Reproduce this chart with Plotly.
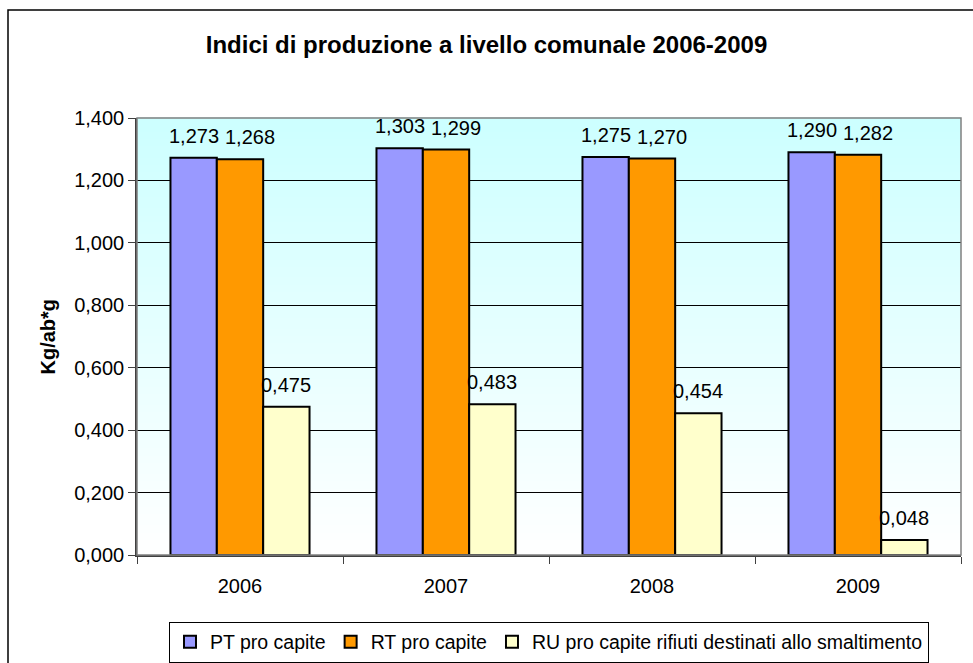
import plotly.graph_objects as go

# Dati: indici di produzione (kg per abitante al giorno)
years = ["2006", "2007", "2008", "2009"]
pt_pro_capite = [1.273, 1.303, 1.275, 1.290]
rt_pro_capite = [1.268, 1.299, 1.270, 1.282]
ru_pro_capite = [0.475, 0.483, 0.454, 0.048]

series_names = [
    "PT pro capite",
    "RT pro capite",
    "RU pro capite rifiuti destinati allo smaltimento",
]
series_values = [pt_pro_capite, rt_pro_capite, ru_pro_capite]
series_colors = ["#9999FF", "#FF9900", "#FFFFCC"]
# horizontal nudge of the value labels so neighbouring labels don't collide
label_xshift = [0, 10, 0]

y_ticks = [0.0, 0.2, 0.4, 0.6, 0.8, 1.0, 1.2, 1.4]

FONT = "Arial, 'Liberation Sans', sans-serif"
BARGAP = 0.325
W, H = 973, 663
ML, MR, MT, MB = 137, 12, 118, 108
plot_w = W - ML - MR
plot_h = H - MT - MB


def fmt(v):
    return f"{v:.3f}".replace(".", ",")


fig = go.Figure()
for name, vals, col in zip(series_names, series_values, series_colors):
    fig.add_trace(go.Bar(
        x=years, y=vals, name=name,
        marker=dict(color=col, line=dict(color="black", width=2)),
        hoverinfo="skip",
    ))

# value labels centred above each bar
bar_w = (1 - BARGAP) / len(series_values)
annotations = []
for k, vals in enumerate(series_values):
    offset = (k - (len(series_values) - 1) / 2) * bar_w
    for i, v in enumerate(vals):
        annotations.append(dict(
            x=i + offset, y=v, xref="x", yref="y",
            text=fmt(v), showarrow=False,
            yanchor="bottom", xanchor="center", yshift=9,
            xshift=label_xshift[k],
            font=dict(family=FONT, size=20, color="black"),
        ))

# y-axis title
annotations.append(dict(
    x=(47 - ML) / plot_w, y=0.5, xref="paper", yref="paper",
    text="Kg/ab*g", textangle=-90, showarrow=False,
    xanchor="center", yanchor="middle",
    font=dict(family=FONT, size=20, color="black", weight="bold"),
))

# plot-area gradient: light cyan at the top fading to white
shapes = []
n_bands = 120
for b in range(n_bands):
    t = (b + 0.5) / n_bands  # 0 = top, 1 = bottom
    r = round(204 + 51 * t)
    shapes.append(dict(
        type="rect", xref="x domain", yref="y domain",
        x0=0, x1=1, y0=1 - (b + 1) / n_bands, y1=1 - b / n_bands + 0.002,
        fillcolor=f"rgb({r},255,255)", line=dict(width=0), layer="below",
    ))
# grey plot-area frame
shapes.append(dict(
    type="rect", xref="x domain", yref="y domain", x0=0, x1=1, y0=0, y1=1,
    line=dict(color="#808080", width=1.5), fillcolor="rgba(0,0,0,0)", layer="above",
))
# outer chart frame
shapes.append(dict(
    type="rect", xref="paper", yref="paper",
    x0=(8 - ML) / plot_w, x1=(990 - ML) / plot_w,
    y0=(plot_h + MT - 680) / plot_h, y1=(plot_h + MT - 10) / plot_h,
    line=dict(color="black", width=1.5), fillcolor="rgba(0,0,0,0)",
))

fig.update_layout(
    template="none",
    width=W, height=H, autosize=False,
    margin=dict(l=ML, r=MR, t=MT, b=MB, autoexpand=False),
    paper_bgcolor="white", plot_bgcolor="white",
    separators=",.",
    barmode="group", bargap=BARGAP, bargroupgap=0,
    font=dict(family=FONT, color="black"),
    title=dict(
        text="Indici di produzione a livello comunale 2006-2009",
        x=0.5, xref="container", xanchor="center",
        y=1 - 45 / H, yref="container", yanchor="middle",
        font=dict(family=FONT, size=24, color="black", weight="bold"),
        automargin=False,
    ),
    xaxis=dict(
        type="category", tickson="boundaries", ticks="outside", ticklen=7,
        tickcolor="#404040", showline=True, linecolor="#404040", linewidth=1.5,
        showgrid=False, tickfont=dict(family=FONT, size=20),
        ticklabelstandoff=12, automargin=False,
    ),
    yaxis=dict(
        range=[0, 1.4], tickvals=y_ticks, tickformat=".3f",
        ticks="outside", ticklen=7, tickcolor="#404040",
        showline=True, linecolor="#404040", linewidth=1.5,
        showgrid=True, gridcolor="black", gridwidth=1, zeroline=False,
        tickfont=dict(family=FONT, size=20), automargin=False,
    ),
    legend=dict(
        orientation="h", x=0.5, xanchor="center",
        y=(555 - 642) / plot_h, yanchor="middle",
        bordercolor="black", borderwidth=1, bgcolor="white",
        font=dict(family=FONT, size=19.5), itemwidth=30,
        tracegroupgap=0,
    ),
    annotations=annotations,
    shapes=shapes,
    showlegend=True,
)

fig.write_html("out.html")
